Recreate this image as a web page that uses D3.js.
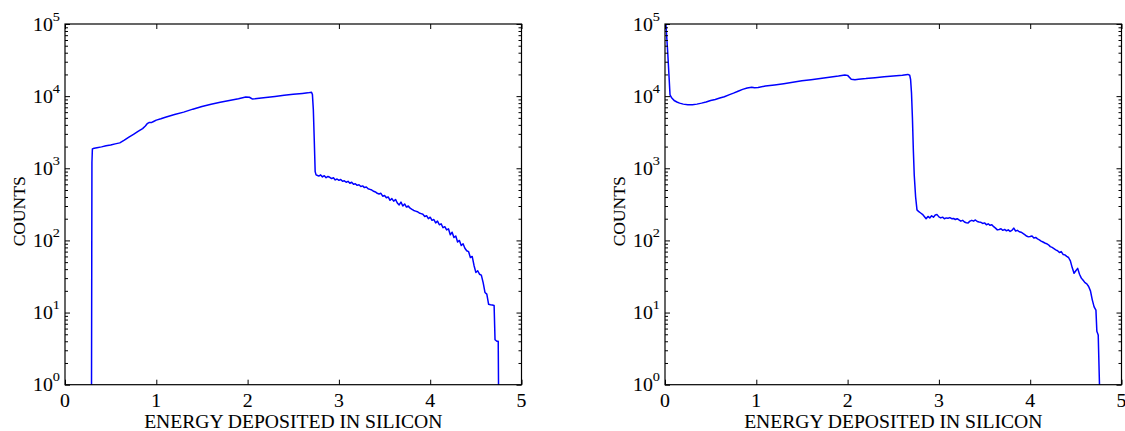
<!DOCTYPE html>
<html>
<head>
<meta charset="utf-8">
<script src="https://cdn.jsdelivr.net/npm/d3@7"></script>
<style>
  html, body { margin: 0; padding: 0; background: #fff; }
  svg { display: block; }
  text { font-family: "Liberation Serif", "Times New Roman", serif; fill: #000; stroke: #000; stroke-width: 0.08px; }
</style>
</head>
<body>
<svg id="chart" width="1125" height="431"></svg>
<script>
// Energy deposited in silicon (x) and counts (y) for the two spectra.
const xTickValues = [0, 1, 2, 3, 4, 5];
const yTickExponents = [0, 1, 2, 3, 4, 5];
const xLabel = "ENERGY DEPOSITED IN SILICON";
const yLabel = "COUNTS";

const energyLeft = [
  0.29, 0.295, 0.30, 0.32, 0.35, 0.40, 0.45, 0.50, 0.55, 0.60, 0.65, 0.70, 0.75, 0.80, 0.85, 0.88,
  0.90, 0.92, 0.95, 0.97, 1.00, 1.05, 1.10, 1.20, 1.30, 1.40, 1.50, 1.60, 1.70, 1.80, 1.90, 1.98,
  2.02, 2.05, 2.08, 2.15, 2.20, 2.30, 2.40, 2.50, 2.60, 2.66, 2.70, 2.71, 2.72, 2.73, 2.74, 2.75,
  2.76, 2.78, 2.80, 2.82, 2.84, 2.86, 2.88, 2.90, 2.92, 2.94, 2.96, 2.98, 3.00, 3.02, 3.04, 3.06,
  3.08, 3.10, 3.12, 3.14, 3.16, 3.18, 3.20, 3.22, 3.24, 3.26, 3.28, 3.30, 3.32, 3.34, 3.36, 3.38,
  3.40, 3.42, 3.44, 3.46, 3.48, 3.50, 3.52, 3.54, 3.56, 3.58, 3.60, 3.62, 3.64, 3.66, 3.68, 3.70,
  3.72, 3.74, 3.76, 3.78, 3.80, 3.82, 3.84, 3.86, 3.88, 3.90, 3.92, 3.94, 3.96, 3.98, 4.00, 4.02,
  4.04, 4.06, 4.08, 4.10, 4.12, 4.14, 4.16, 4.18, 4.20, 4.22, 4.24, 4.26, 4.28, 4.30, 4.32, 4.34,
  4.36, 4.38, 4.40, 4.42, 4.44, 4.46, 4.48, 4.50, 4.52, 4.54, 4.56, 4.58, 4.60, 4.62, 4.64, 4.66,
  4.68, 4.70, 4.71, 4.73, 4.745, 4.75
];
const countsLeft = [
  0.5, 1200, 1850, 1900, 1930, 1980, 2050, 2100, 2180, 2250, 2450, 2700, 2950, 3250, 3550, 3850,
  4150, 4300, 4320, 4450, 4650, 4850, 5100, 5550, 6000, 6600, 7200, 7700, 8200, 8700, 9200, 9700,
  9650, 9150, 9200, 9400, 9550, 9900, 10300, 10600, 10900, 11100, 11350, 10500, 6500, 2500, 900, 810,
  800, 780, 810, 760, 790, 740, 770, 750, 720, 740, 690, 710, 680, 700, 660, 670,
  640, 660, 620, 640, 600, 610, 580, 590, 560, 570, 540, 550, 520, 510, 500, 480,
  470, 450, 440, 450, 410, 420, 390, 400, 360, 380, 350, 370, 330, 310, 340, 300,
  320, 290, 300, 280, 270, 260, 255, 250, 240, 235, 230, 215, 220, 200, 210, 190,
  195, 175, 185, 165, 170, 150, 155, 140, 145, 120, 130, 110, 115, 95, 100, 85,
  90, 78, 72, 70, 58, 60, 45, 36, 38, 34, 33, 26, 19, 18, 13, 12.8,
  12.7, 12.5, 4.2, 4.0, 4.0, 0.5
];

const energyRight = [
  0.005, 0.01, 0.03, 0.045, 0.055, 0.07, 0.10, 0.13, 0.16, 0.20, 0.25, 0.30, 0.35, 0.40, 0.45, 0.50,
  0.55, 0.60, 0.65, 0.70, 0.75, 0.80, 0.85, 0.90, 0.95, 0.98, 1.02, 1.10, 1.20, 1.30, 1.40, 1.50,
  1.60, 1.70, 1.80, 1.90, 1.97, 2.00, 2.04, 2.08, 2.12, 2.20, 2.30, 2.40, 2.50, 2.60, 2.66, 2.68,
  2.69, 2.70, 2.71, 2.72, 2.73, 2.745, 2.76, 2.78, 2.80, 2.82, 2.84, 2.86, 2.88, 2.90, 2.92, 2.94,
  2.96, 2.98, 3.00, 3.02, 3.04, 3.06, 3.08, 3.10, 3.12, 3.14, 3.16, 3.18, 3.20, 3.22, 3.24, 3.26,
  3.28, 3.30, 3.32, 3.34, 3.36, 3.38, 3.40, 3.42, 3.44, 3.46, 3.48, 3.50, 3.52, 3.54, 3.56, 3.58,
  3.60, 3.62, 3.64, 3.66, 3.68, 3.70, 3.72, 3.74, 3.76, 3.78, 3.80, 3.82, 3.84, 3.86, 3.88, 3.90,
  3.92, 3.94, 3.96, 3.98, 4.00, 4.02, 4.04, 4.06, 4.08, 4.10, 4.12, 4.14, 4.16, 4.18, 4.20, 4.22,
  4.24, 4.26, 4.28, 4.30, 4.32, 4.34, 4.36, 4.38, 4.40, 4.42, 4.44, 4.46, 4.48, 4.50, 4.52, 4.54,
  4.56, 4.58, 4.60, 4.62, 4.64, 4.66, 4.68, 4.70, 4.72, 4.73, 4.745, 4.765
];
const countsRight = [
  150000, 100000, 40000, 18000, 10400, 9600, 8700, 8300, 8000, 7750, 7600, 7600, 7750, 8000, 8300, 8700,
  9000, 9400, 9800, 10400, 11000, 11700, 12400, 13000, 13300, 13050, 13150, 13800, 14300, 14900, 15600, 16300,
  16900, 17600, 18300, 19000, 19600, 19400, 17200, 16900, 17200, 17500, 18000, 18500, 19000, 19500, 20000, 19500,
  17000, 11000, 5000, 1800, 800, 400, 265, 250, 240, 230, 215, 200, 215, 205, 220, 210,
  225, 228, 212, 205, 210, 200, 205, 203, 207, 200, 202, 195, 200, 192, 185, 190,
  180, 176, 175, 185, 190, 185, 192, 183, 180, 178, 172, 175, 165, 170, 162, 165,
  155, 148, 140, 142, 145, 138, 142, 136, 140, 133, 138, 148, 135, 138, 132, 130,
  125, 120, 115, 112, 113, 115, 108, 110, 105, 102, 98, 95, 92, 90, 87, 82,
  80, 77, 74, 72, 68, 70, 64, 63, 60, 58, 52, 42, 35, 38, 41, 34,
  30, 28, 26, 25, 23, 20, 15, 12, 10.8, 5.5, 4.9, 0.5
];

const svg = d3.select("#chart");
const plotTop = 24, plotBottom = 384.7, plotWidth = 456.5;
const panelLefts = [65, 665];
const fontSize = 18, supSize = 13;
const stretch = 1.1; // horizontal widening of the serif lettering

function drawPanel(idx, left, energy, counts) {
  const right = left + plotWidth;
  const x = d3.scaleLinear().domain([0, 5]).range([left, right]);
  const y = d3.scaleLog().domain([1, 1e5]).range([plotBottom, plotTop]);
  const g = svg.append("g");

  const clipId = "clip" + idx;
  svg.append("clipPath").attr("id", clipId)
    .append("rect").attr("x", left).attr("y", plotTop)
    .attr("width", plotWidth).attr("height", plotBottom - plotTop);

  // spectrum
  const pts = energy.map((e, i) => [e, counts[i]]);
  const line = d3.line().x(d => x(d[0])).y(d => y(d[1]));
  g.append("path").datum(pts)
    .attr("clip-path", `url(#${clipId})`)
    .attr("d", line)
    .attr("fill", "none")
    .attr("stroke", "#0000ff")
    .attr("stroke-width", 1.5)
    .attr("stroke-linejoin", "round");

  // inward ticks on all four sides
  const majorY = yTickExponents.map(k => Math.pow(10, k));
  const minorY = [];
  for (let k = 0; k < 5; k++) for (let m = 2; m <= 9; m++) minorY.push(m * Math.pow(10, k));

  const axisStyle = sel => {
    sel.select(".domain").remove();
    sel.selectAll(".tick line").attr("stroke", "#000").attr("stroke-width", 1);
    sel.selectAll(".tick text").remove();
  };

  g.append("g").attr("transform", `translate(${left},0)`)
    .call(d3.axisLeft(y).tickValues(majorY).tickSize(-5).tickFormat("")).call(axisStyle);
  g.append("g").attr("transform", `translate(${left},0)`)
    .call(d3.axisLeft(y).tickValues(minorY).tickSize(-3).tickFormat("")).call(axisStyle);
  g.append("g").attr("transform", `translate(${right},0)`)
    .call(d3.axisRight(y).tickValues(majorY).tickSize(-5).tickFormat("")).call(axisStyle);
  g.append("g").attr("transform", `translate(${right},0)`)
    .call(d3.axisRight(y).tickValues(minorY).tickSize(-3).tickFormat("")).call(axisStyle);
  g.append("g").attr("transform", `translate(0,${plotBottom})`)
    .call(d3.axisBottom(x).tickValues(xTickValues).tickSize(-5).tickFormat("")).call(axisStyle);
  g.append("g").attr("transform", `translate(0,${plotTop})`)
    .call(d3.axisTop(x).tickValues(xTickValues).tickSize(-5).tickFormat("")).call(axisStyle);

  // frame
  g.append("rect").attr("x", left).attr("y", plotTop)
    .attr("width", plotWidth).attr("height", plotBottom - plotTop)
    .attr("fill", "none").attr("stroke", "#000").attr("stroke-width", 1.2);

  // y tick labels: 10 with a raised exponent
  yTickExponents.forEach(k => {
    const yy = y(Math.pow(10, k));
    const t = g.append("text")
      .attr("transform", `translate(${left - 5},${yy + 6.5}) scale(${stretch},1)`)
      .attr("text-anchor", "end")
      .style("font-size", fontSize + "px");
    t.append("tspan").text("10");
    t.append("tspan").text(String(k))
      .attr("dy", -10)
      .style("font-size", supSize + "px");
  });

  // x tick labels
  xTickValues.forEach(v => {
    g.append("text")
      .attr("transform", `translate(${x(v)},${plotBottom + 22.5}) scale(${stretch},1)`)
      .attr("text-anchor", "middle")
      .style("font-size", fontSize + "px")
      .text(String(v));
  });

  // axis titles
  g.append("text")
    .attr("transform", `translate(${(left + right) / 2},${plotBottom + 43}) scale(1.09,1)`)
    .attr("text-anchor", "middle")
    .style("font-size", fontSize + "px")
    .text(xLabel);
  g.append("text")
    .attr("transform", `translate(${left - 40},${(plotTop + plotBottom) / 2 + 7}) rotate(-90)`)
    .attr("text-anchor", "middle")
    .style("font-size", "17.5px")
    .text(yLabel);
}

drawPanel(0, panelLefts[0], energyLeft, countsLeft);
drawPanel(1, panelLefts[1], energyRight, countsRight);
</script>
</body>
</html>
